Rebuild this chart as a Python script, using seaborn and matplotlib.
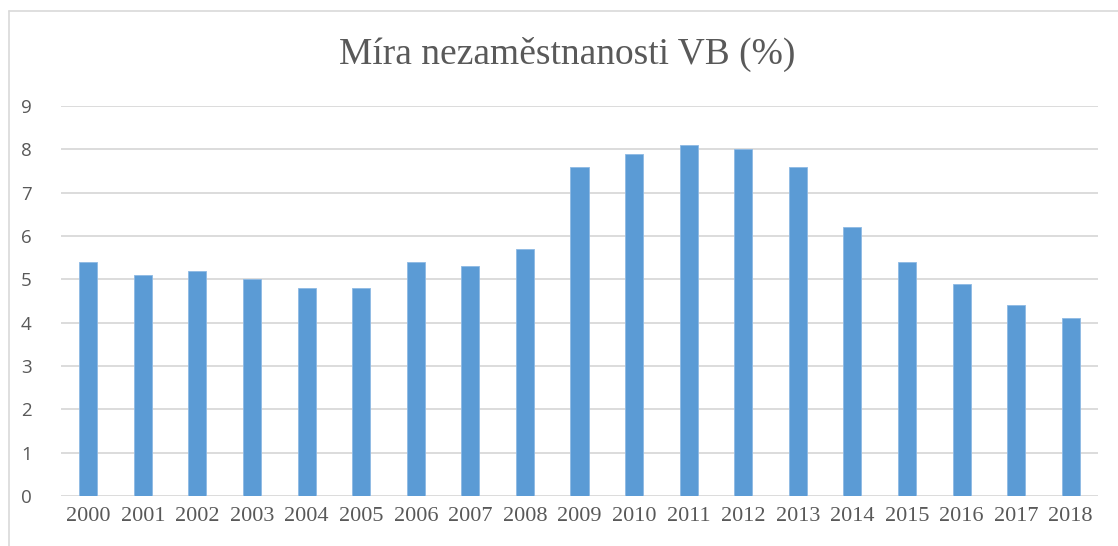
import matplotlib
matplotlib.use("Agg")
import matplotlib.pyplot as plt
from matplotlib.lines import Line2D
import seaborn as sns
import pandas as pd

# data
roky = [str(r) for r in range(2000, 2019)]
mira = [5.4, 5.1, 5.2, 5.0, 4.8, 4.8, 5.4, 5.3, 5.7, 7.6,
        7.9, 8.1, 8.0, 7.6, 6.2, 5.4, 4.9, 4.4, 4.1]
y_ticks = list(range(0, 10))

df = pd.DataFrame({"Rok": roky, "Mira": mira})

sns.set_style("white")
text_col = "#595959"

fig = plt.figure(figsize=(11.18, 5.46), dpi=100)
ax = fig.add_axes([61 / 1118, 1 - 496 / 546, (1098 - 61) / 1118, (496 - 106) / 546])

sns.barplot(data=df, x="Rok", y="Mira", color="#5B9BD5", width=0.33,
            saturation=1, edgecolor="#8DB9E4", linewidth=0.6, ax=ax, zorder=3)

ax.set_ylim(0, 9)
ax.set_xlim(-0.5, len(roky) - 0.5)
ax.set_yticks(y_ticks)
ax.set_yticklabels([str(t) for t in y_ticks], family="Open Sans", fontsize=13.5, color=text_col)
ax.set_xticks(range(len(roky)))
ax.set_xticklabels(roky, family="Liberation Serif", fontsize=16, color=text_col)
ax.tick_params(axis="y", length=0, pad=21)
ax.tick_params(axis="x", length=0, pad=8)
ax.set_xlabel("")
ax.set_ylabel("")
ax.grid(axis="y", color="#D9D9D9", linewidth=1.3, zorder=0)
ax.set_axisbelow(True)
for s in ax.spines.values():
    s.set_visible(False)

fig.text(567 / 1118, 1 - 54 / 546, "Míra nezaměstnanosti VB (%)", ha="center", va="center",
         family="Liberation Serif", fontsize=27, color=text_col)

# chart frame (light gray, runs off the right and bottom edges)
fig.add_artist(Line2D([8.5 / 1118, 1.0], [1 - 10.5 / 546, 1 - 10.5 / 546],
                      color="#D9D9D9", linewidth=1.2, transform=fig.transFigure))
fig.add_artist(Line2D([8.5 / 1118, 8.5 / 1118], [0.0, 1 - 10.5 / 546],
                      color="#D9D9D9", linewidth=1.2, transform=fig.transFigure))

fig.savefig("out.png", dpi=100)
